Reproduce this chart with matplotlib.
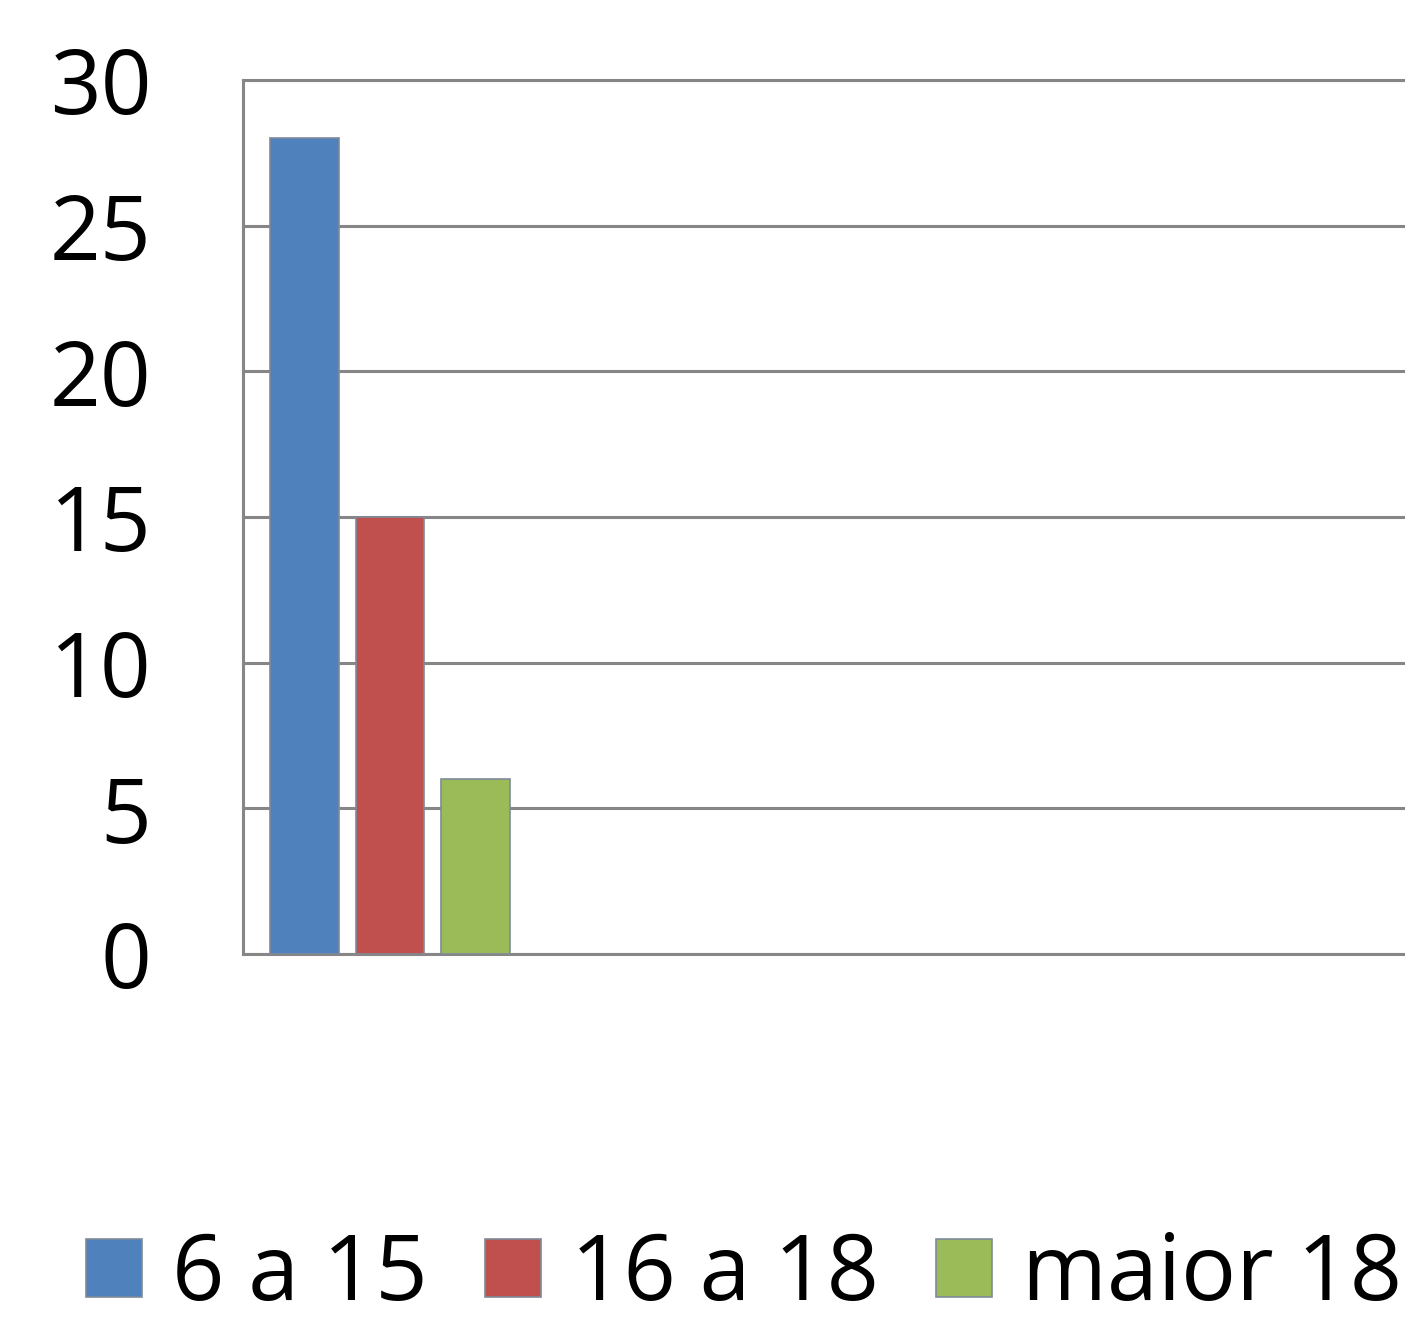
import matplotlib.pyplot as plt
import numpy as np

# faixas etárias e quantidade de alunos
faixas = ["6 a 15", "16 a 18", "maior 18"]
valores = [28, 15, 6]
cores = ["#4f81bd", "#c0504d", "#9bbb59"]
y_ticks = [0, 5, 10, 15, 20, 25, 30]

plt.rcParams['font.family'] = ['Open Sans', 'DejaVu Sans']

fig = plt.figure(figsize=(14.05, 13.25), dpi=100)
ax = fig.add_axes([243 / 1405, 1 - 954 / 1325, 1.02 - 243 / 1405, 874 / 1325])

x = np.arange(len(valores))
barras = []
for i in range(len(valores)):
    b = ax.bar(x[i], valores[i], width=0.8, color=cores[i],
               edgecolor="#7f8a99", linewidth=1.2, zorder=3, label=faixas[i])
    barras.append(b)

ax.set_xlim(-0.72, 13.2)
ax.set_ylim(0, 30)
ax.set_yticks(y_ticks)
ax.set_xticks([])
ax.grid(axis="y", color="#868686", linewidth=2.2, zorder=0)
for s in ax.spines.values():
    s.set_color("#868686")
    s.set_linewidth(2.2)
ax.tick_params(axis="y", length=0, pad=66, labelsize=64)

fig.legend(handles=[b[0] for b in barras], labels=faixas, loc="lower left",
           bbox_to_anchor=(86 / 1405, 0.002), ncol=3, frameon=False,
           fontsize=66, handlelength=0.61, handleheight=0.61,
           handletextpad=0.33, columnspacing=0.62, borderpad=0,
           borderaxespad=0)

fig.savefig("out.png", dpi=100)
